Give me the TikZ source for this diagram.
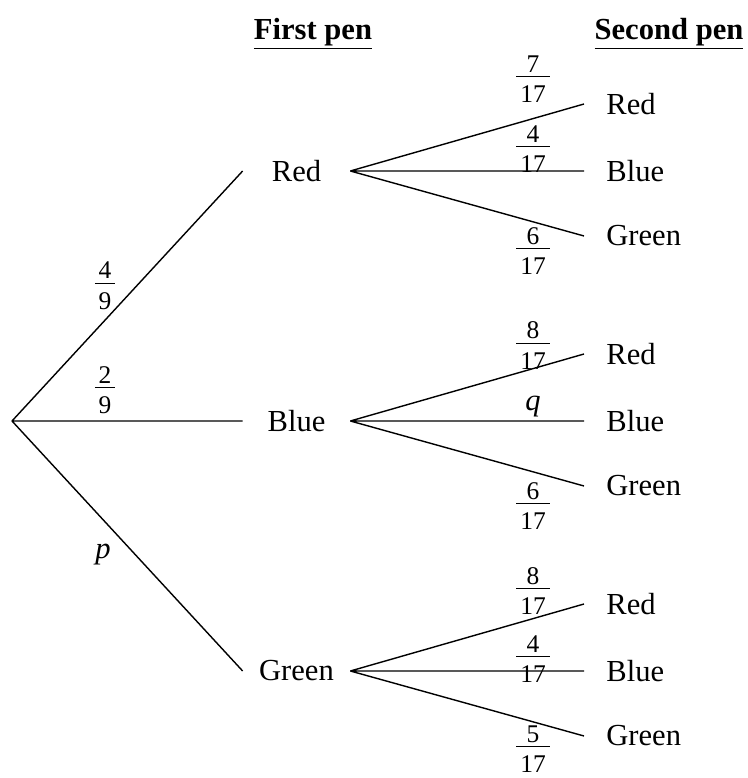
\documentclass[tikz,border=0pt]{standalone}
\usepackage{fontspec}
\setmainfont{Liberation Serif}
\newcommand{\pf}[2]{{\fontsize{14.5}{14.5}\selectfont\renewcommand{\arraystretch}{0}\setlength{\arrayrulewidth}{0.8pt}%
  \begin{tabular}{@{\hspace{2.2pt}}c@{\hspace{2.2pt}}}#1\rule[-2.2pt]{0pt}{0pt}\\\hline\rule{0pt}{14.4pt}#2\end{tabular}}}
\begin{document}
\fontsize{17.4}{20}\selectfont
\begin{tikzpicture}[
    lvl/.style={minimum width=2.14cm,inner sep=0pt},
    leaf/.style={anchor=west,inner xsep=0.44cm,inner ysep=0pt},
    br/.style={line width=0.8pt}]
    \useasboundingbox (-0.24,-7.14) rectangle (14.72,8.42);
    % headings
    \node (h1) at (6.02,7.75) {\underline{\textbf{First pen}}};
    \node (h2) at (13.14,7.75) {\underline{\textbf{Second pen}}};
    % first pen
    \coordinate (o) at (0,0);
    \node[lvl] (r) at (5.69,5) {Red};
    \node[lvl] (b) at (5.69,0) {Blue};
    \node[lvl] (g) at (5.69,-5) {Green};
    \draw[br] (o) -- (r.west) (o) -- (b.west) (o) -- (g.west);
    \node (pr) at (1.86,2.7) {\pf{4}{9}};
    \node (pb) at (1.86,0.62) {\pf{2}{9}};
    \node (pg) at (1.82,-2.68) {\textit{p}};
    % second pen after red
    \node[leaf] (rr) at (11.44,6.34) {Red};
    \node[leaf] (rb) at (11.44,5) {Blue};
    \node[leaf] (rg) at (11.44,3.7) {Green};
    \draw[br] (r.east) -- (rr.west) (r.east) -- (rb.west) (r.east) -- (rg.west);
    \node (prr) at (10.42,6.84) {\pf{7}{17}};
    \node (prb) at (10.42,5.44) {\pf{4}{17}};
    \node (prg) at (10.42,3.4) {\pf{6}{17}};
    % second pen after blue
    \node[leaf] (br) at (11.44,1.34) {Red};
    \node[leaf] (bb) at (11.44,0) {Blue};
    \node[leaf] (bg) at (11.44,-1.3) {Green};
    \draw[br] (b.east) -- (br.west) (b.east) -- (bb.west) (b.east) -- (bg.west);
    \node (pbr) at (10.42,1.51) {\pf{8}{17}};
    \node (pbb) at (10.42,0.28) {\textit{q}};
    \node (pbg) at (10.42,-1.7) {\pf{6}{17}};
    % second pen after green
    \node[leaf] (gr) at (11.44,-3.66) {Red};
    \node[leaf] (gb) at (11.44,-5) {Blue};
    \node[leaf] (gg) at (11.44,-6.3) {Green};
    \draw[br] (g.east) -- (gr.west) (g.east) -- (gb.west) (g.east) -- (gg.west);
    \node (pgr) at (10.42,-3.4) {\pf{8}{17}};
    \node (pgb) at (10.42,-4.76) {\pf{4}{17}};
    \node (pgg) at (10.42,-6.56) {\pf{5}{17}};
\end{tikzpicture}
\end{document}
